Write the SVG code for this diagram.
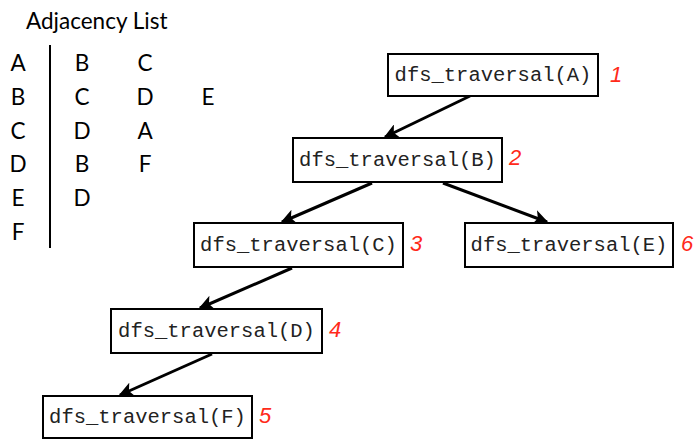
<svg xmlns="http://www.w3.org/2000/svg" width="696" height="439" viewBox="0 0 696 439">
<style>
.box{fill:#fff;stroke:#000;stroke-width:2}
.code{font-family:"Liberation Mono","Courier New",monospace;font-size:20.5px;fill:#222;text-anchor:middle}
.num{font-family:"Liberation Sans",Arial,sans-serif;font-style:italic;font-size:22px;fill:#ff2a1a}
.adj{font-family:Lato,"Open Sans",sans-serif;font-size:22.5px;fill:#000;text-anchor:middle}
.edge{stroke:#000;stroke-width:3;fill:none;marker-end:url(#arr)}
</style>
<defs>
<marker id="arr" viewBox="0 0 10 10" refX="9" refY="5" markerWidth="5" markerHeight="5" orient="auto" markerUnits="strokeWidth">
<path d="M0,0 L10,5 L0,10 L2.5,5 Z" fill="#000"/>
</marker>
</defs>
<g id="adjacency">
<text x="26" y="29" font-family="Lato,'Open Sans',sans-serif" font-size="22.5">Adjacency List</text>
<line x1="50" y1="45" x2="50" y2="248" stroke="#000" stroke-width="2"/>
<text class="adj" x="18" y="71">A</text><text class="adj" x="82" y="71">B</text><text class="adj" x="145" y="71">C</text>
<text class="adj" x="18" y="105">B</text><text class="adj" x="82" y="105">C</text><text class="adj" x="145" y="105">D</text><text class="adj" x="208" y="105">E</text>
<text class="adj" x="18" y="139">C</text><text class="adj" x="82" y="139">D</text><text class="adj" x="145" y="139">A</text>
<text class="adj" x="18" y="172">D</text><text class="adj" x="82" y="172">B</text><text class="adj" x="145" y="172">F</text>
<text class="adj" x="18" y="206">E</text><text class="adj" x="82" y="206">D</text>
<text class="adj" x="18" y="240">F</text>
</g>
<g id="connectors">
<line class="edge" x1="470" y1="96" x2="385" y2="137"/>
<line class="edge" x1="372" y1="183" x2="282" y2="222"/>
<line class="edge" x1="443" y1="183" x2="547" y2="222"/>
<line class="edge" x1="292" y1="268" x2="200" y2="308"/>
<line class="edge" x1="212" y1="354" x2="120" y2="395"/>
</g>
<g id="nodeA"><rect class="box" x="388" y="54" width="210" height="42"/><text class="code" x="493" y="81">dfs_traversal(A)</text><text class="num" x="610" y="82">1</text></g>
<g id="nodeB"><rect class="box" x="293" y="138" width="209" height="44"/><text class="code" x="397.5" y="166">dfs_traversal(B)</text><text class="num" x="509" y="165">2</text></g>
<g id="nodeC"><rect class="box" x="194" y="223" width="209" height="44"/><text class="code" x="298.5" y="251">dfs_traversal(C)</text><text class="num" x="410" y="251">3</text></g>
<g id="nodeE"><rect class="box" x="465" y="223" width="208" height="44"/><text class="code" x="569" y="251">dfs_traversal(E)</text><text class="num" x="681" y="251">6</text></g>
<g id="nodeD"><rect class="box" x="111" y="309" width="211" height="44"/><text class="code" x="216.5" y="337">dfs_traversal(D)</text><text class="num" x="329" y="337">4</text></g>
<g id="nodeF"><rect class="box" x="43" y="396" width="209" height="42"/><text class="code" x="147.5" y="423">dfs_traversal(F)</text><text class="num" x="259" y="423">5</text></g>
</svg>
